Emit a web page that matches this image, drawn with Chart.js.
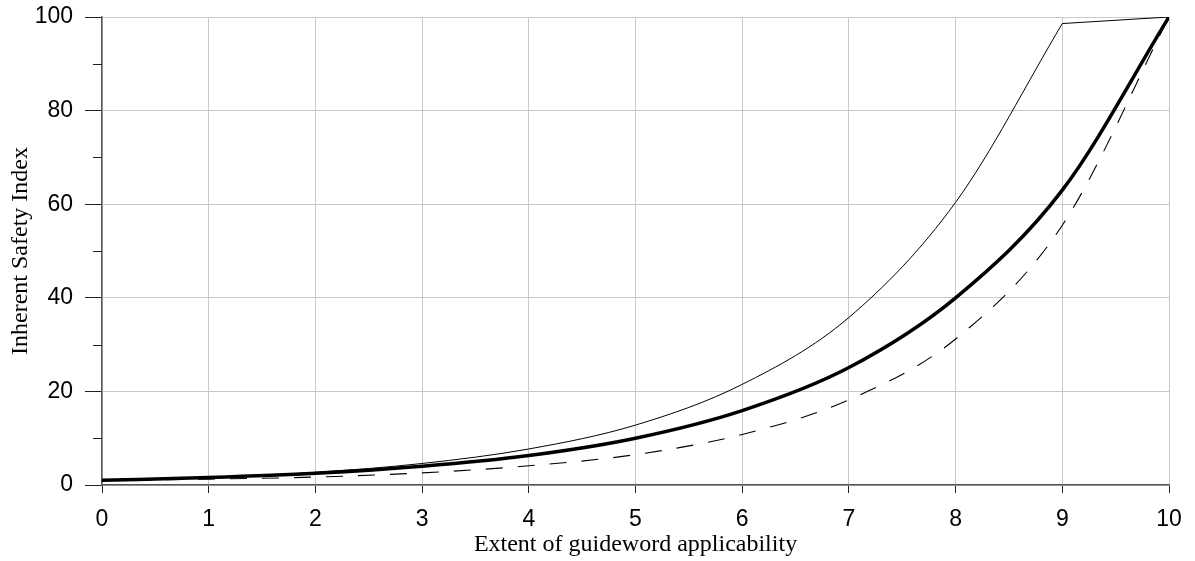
<!DOCTYPE html>
<html>
<head>
<meta charset="utf-8">
<script src="https://cdn.jsdelivr.net/npm/chart.js@4.4.1/dist/chart.umd.min.js"></script>
<style>
  html, body { margin: 0; padding: 0; background: #fff; }
  #wrap { width: 1195px; height: 561px; position: relative; }
</style>
</head>
<body>
<div id="wrap"><canvas id="isiChart"></canvas></div>
<script>
// --- Data ---
const extent = [0, 1, 2, 3, 4, 5, 6, 7, 8, 9, 10];
const isiUpper = [1.0, 1.65, 2.7, 4.6, 7.7, 12.8, 21.5, 35.8, 60.4, 98.6];   // thin line, 0..9
const isiUpperTail = [98.6, 100];                                            // thin line, 9..10
const isiMid = [1.0, 1.6, 2.5, 4.0, 6.3, 10.0, 15.9, 25.1, 40.0, 63.0, 100];
const isiLower = [1.0, 1.25, 1.7, 2.6, 4.1, 6.5, 10.8, 18.2, 31.2, 55.5, 100];
const yTicks = [0, 20, 40, 60, 80, 100];

const toPoints = (xs, ys) => ys.map((y, i) => ({ x: xs[i], y: y }));

const GRID = '#c8c8c8';
const AXIS = '#555555';

// minor y ticks (10, 30, 50, ...) are shorter than the labelled ones
const minorTicks = {
    id: 'minorTicks',
    afterDraw(chart) {
        const y = chart.scales.y;
        const ctx = chart.ctx;
        ctx.save();
        ctx.strokeStyle = '#222';
        ctx.lineWidth = 1;
        for (let v = 10; v < 100; v += 20) {
            const py = Math.round(y.getPixelForValue(v)) + 0.5;
            ctx.beginPath();
            ctx.moveTo(y.right - 9, py);
            ctx.lineTo(y.right, py);
            ctx.stroke();
        }
        ctx.restore();
    }
};

const ctx = document.getElementById('isiChart').getContext('2d');
new Chart(ctx, {
    type: 'line',
    data: {
        datasets: [
            { data: toPoints(extent, isiUpper), borderColor: '#000', borderWidth: 1, cubicInterpolationMode: 'monotone' },
            { data: toPoints(extent.slice(9), isiUpperTail), borderColor: '#000', borderWidth: 1, tension: 0 },
            { data: toPoints(extent, isiLower), borderColor: '#000', borderWidth: 1.1, borderDash: [17, 15], cubicInterpolationMode: 'monotone' },
            { data: toPoints(extent, isiMid), borderColor: '#000', borderWidth: 3.5, cubicInterpolationMode: 'monotone' }
        ]
    },
    options: {
        responsive: true,
        maintainAspectRatio: false,
        animation: false,
        elements: { point: { radius: 0 } },
        layout: { padding: { top: 17, right: 26, left: 0, bottom: 0 } },
        plugins: { legend: { display: false }, tooltip: { enabled: false } },
        scales: {
            x: {
                type: 'linear',
                min: 0, max: 10,
                afterFit: s => { s.height = 76; s.paddingLeft = 0; s.paddingRight = 0; },
                grid: { color: GRID, tickColor: '#222', tickLength: 8 },
                border: { color: AXIS, width: 1.5 },
                ticks: {
                    stepSize: 1, autoSkip: false, maxRotation: 0, padding: 13,
                    color: '#000', font: { family: 'Liberation Sans, Arial', size: 23 }
                },
                title: {
                    display: true, text: 'Extent of guideword applicability',
                    color: '#000', font: { family: 'Liberation Serif, Times New Roman', size: 24 },
                    padding: { top: 0, bottom: 2 }
                }
            },
            y: {
                min: 0, max: 100,
                afterFit: s => { s.width = 102; s.paddingTop = 0; s.paddingBottom = 0; },
                afterBuildTicks: s => { s.ticks = yTicks.map(v => ({ value: v })); },
                grid: { color: GRID, tickColor: '#222', tickLength: 17 },
                border: { color: AXIS, width: 1.5 },
                ticks: {
                    padding: 12,
                    color: '#000', font: { family: 'Liberation Sans, Arial', size: 23 }
                },
                title: {
                    display: true, text: 'Inherent Safety Index',
                    color: '#000', font: { family: 'Liberation Serif, Times New Roman', size: 24 },
                    padding: { top: 6, bottom: 0 }
                }
            }
        }
    },
    plugins: [minorTicks]
});
</script>
</body>
</html>
